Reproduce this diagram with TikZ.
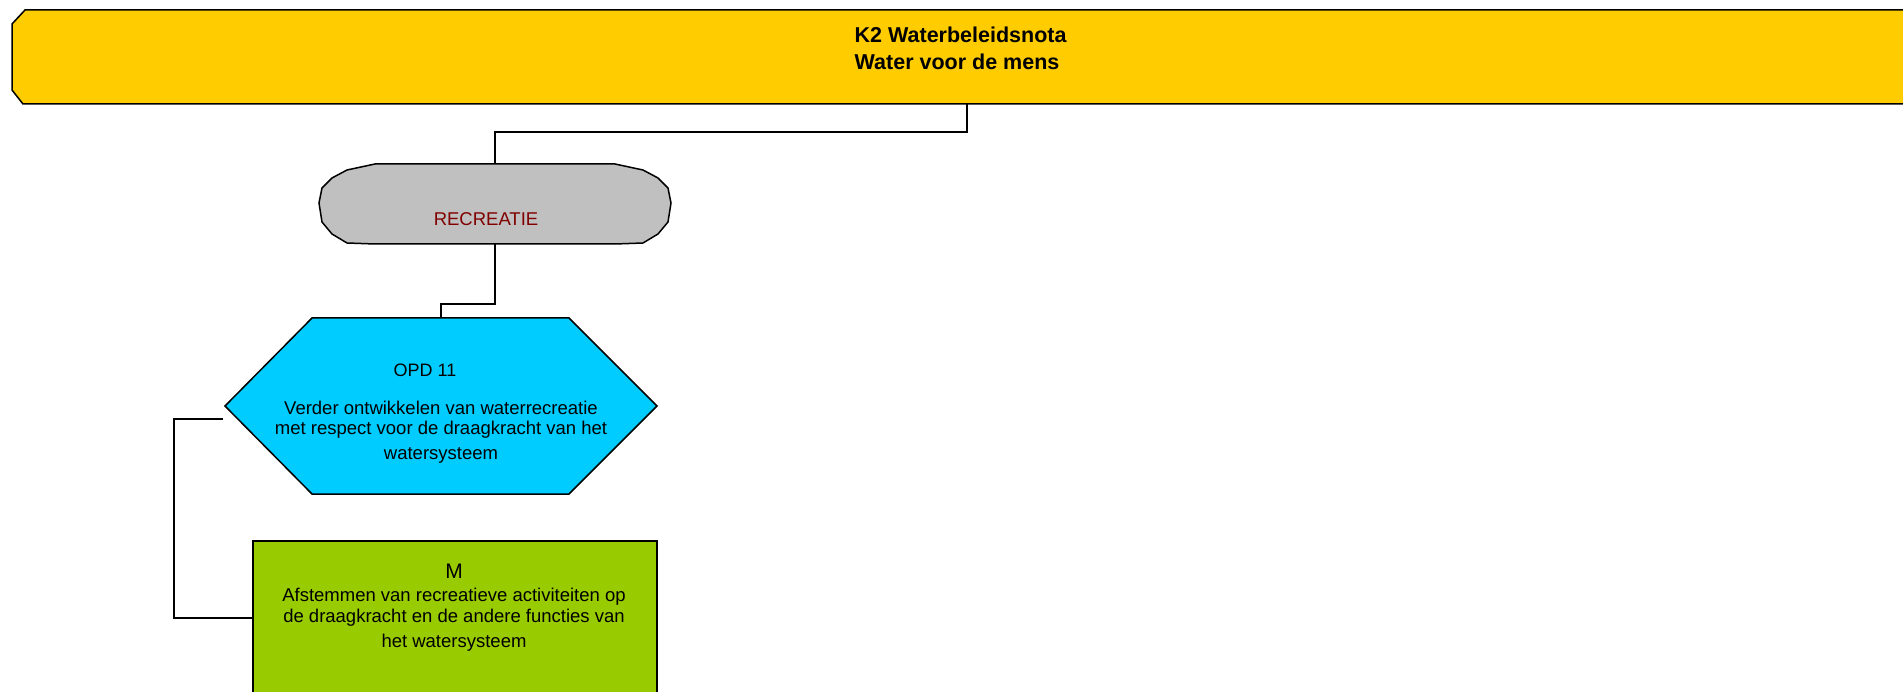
\documentclass[tikz,border=0pt]{standalone}
\usepackage{fontspec}
\setmainfont{Liberation Sans}
\usetikzlibrary{calc}
\definecolor{geel}{HTML}{FFCC00}
\definecolor{grijs}{HTML}{C0C0C0}
\definecolor{blauw}{HTML}{00CCFF}
\definecolor{groen}{HTML}{99CC00}
\definecolor{donkerrood}{HTML}{800000}

\begin{document}
\begin{tikzpicture}[x=1pt,y=-1pt,
  vorm/.style={draw=black,line width=1.5pt},
  lijn/.style={draw=black,line width=1.6pt},
  kader/.style={rectangle,inner sep=0pt,outer sep=0pt},
  tekst/.style={inner sep=0pt,align=center,text=black}]
  \useasboundingbox (0,0) rectangle (1903,692);
  \clip (0,0) rectangle (1903,692);
  \fill[white] (0,0) rectangle (1903,692);

  \node[kader,minimum width=1910pt,minimum height=94pt] (k2) at (967,57) {};
  \draw[vorm,fill=geel] ($(k2.north west)+(13,0)$) -- (k2.north east) -- (k2.south east) -- ($(k2.south west)+(11,0)$) -- ($(k2.south west)+(0,-14)$) -- ($(k2.north west)+(0,14)$) -- cycle;
  \begin{scope}
    \clip (0,0) rectangle (1067,104);
    \node[tekst,align=left,anchor=north west,font=\fontsize{21.5}{27.5}\selectfont\bfseries] (titel) at (854.5,26.5) {K2 Waterbeleidsnota\\Water voor de mens};
  \end{scope}

  \node[kader,minimum width=353pt,minimum height=80pt] (recreatie) at (495,204) {};
  \draw[vorm,fill=grijs,shift={(recreatie.center)}] (-120,-40) -- (120,-40) -- (148,-34) -- (163,-26) -- (173,-16) -- (176,-1) -- (173,18) -- (163,30) -- (148,39) -- (120,40) -- (-120,40) -- (-148,39) -- (-163,30) -- (-173,18) -- (-176,-1) -- (-173,-16) -- (-163,-26) -- (-148,-34) -- cycle;
  \node[tekst,text=donkerrood,font=\fontsize{18.5}{20}\selectfont] (recreatietekst) at ($(recreatie.center)+(-9,15)$) {RECREATIE};

  \node[kader,minimum width=432pt,minimum height=176pt] (opd) at (441,406) {};
  \draw[vorm,fill=blauw,shift={(opd.center)}] (-216,0) -- (-129,-88) -- (128,-88) -- (216,0) -- (128,88) -- (-129,88) -- cycle;
  \node[tekst,anchor=north,font=\fontsize{18.5}{20}\selectfont] (opdtekst) at (441,364) {\hspace*{-32pt}{\fontsize{18}{20}\selectfont OPD 11}\\[18pt]Verder ontwikkelen van waterrecreatie\\met respect voor de draagkracht van het\\[5pt]watersysteem};

  \node[kader,vorm,fill=groen,minimum width=404pt,minimum height=154pt] (maatregel) at (455,618) {};
  \node[tekst,anchor=north,font=\fontsize{18.5}{21}\selectfont] (maatregeltekst) at (454,564) {{\fontsize{21}{21}\selectfont M}\\[2pt]Afstemmen van recreatieve activiteiten op\\de draagkracht en de andere functies van\\[4pt]het watersysteem};

  \draw[lijn] (k2.south) -- ++(0,28) -| (recreatie.north);
  \draw[lijn] (recreatie.south) -- ++(0,60) -| (opd.north);
  \coordinate (opdlinks) at ($(opd.west)+(-2,13)$);
  \draw[lijn] (opdlinks) -- ++(-49,0) |- (maatregel.west);
\end{tikzpicture}
\end{document}
